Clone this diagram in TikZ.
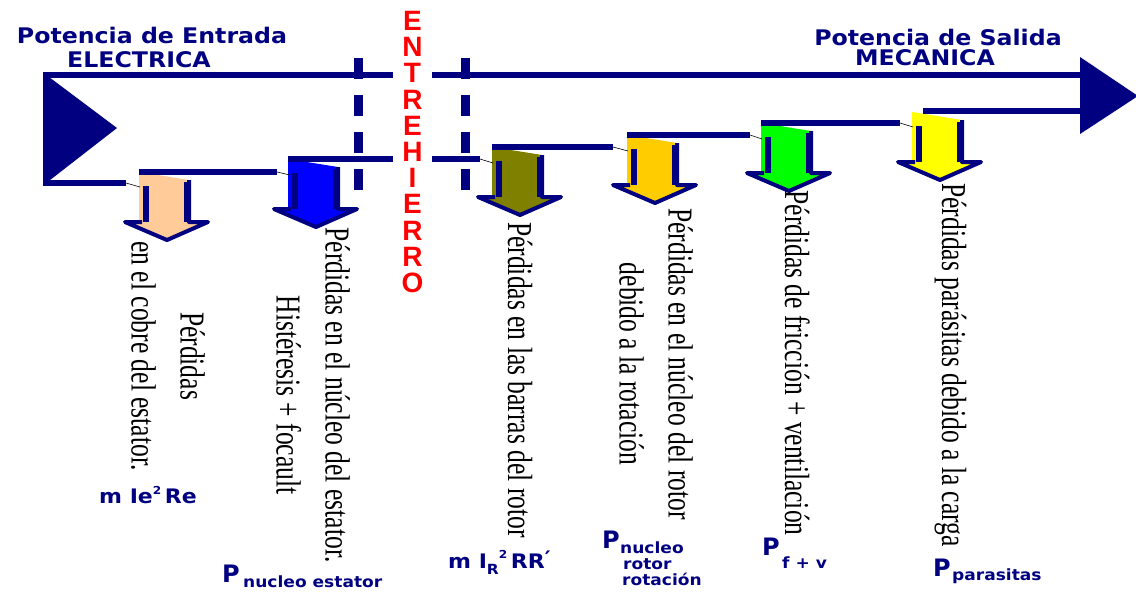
\documentclass[tikz,border=0pt]{standalone}
\usepackage{fontspec}
\setmainfont{Liberation Serif}
\newfontfamily\labfont{DejaVu Sans}
\newfontfamily\redfont{Liberation Sans}
\definecolor{nvy}{RGB}{0,0,128}
\definecolor{beige}{RGB}{255,204,153}
\definecolor{olivec}{RGB}{128,128,0}
\definecolor{orangec}{RGB}{255,204,0}
\definecolor{greenc}{RGB}{0,255,0}
\definecolor{yellowc}{RGB}{255,255,0}
\newcommand\vt[1]{\scalebox{0.73}[1]{\begin{tabular}{@{}c@{}}#1\end{tabular}}}
\newcommand\widen[1]{\scalebox{1.1}[1]{#1}}
\newcommand\lossarrow[4]{%
  \coordinate (#1) at (#2,#3);
  \fill[#4] (#2,#3) -- (#2+50,#3+8) -- (#2+50,#3+50) -- (#2+69,#3+50) -- (#2+28,#3+68) -- (#2-14,#3+50) -- (#2,#3+50) -- cycle;
  \draw[nvy,line width=4pt,line join=round] (#2+50,#3+8) -- (#2+50,#3+50) -- (#2+69,#3+50) -- (#2+28,#3+68) -- (#2-14,#3+50) -- (#2+3,#3+50);
  \fill[nvy] (#2+45,#3+10) rectangle (#2+51,#3+50);
  \fill[nvy] (#2+4,#3+14) rectangle (#2+10,#3+50);
}
\tikzset{
  flow/.style={draw=nvy, line width=5.5pt},
  link/.style={draw=black, line width=0.6pt},
  gapline/.style={draw=nvy, line width=9pt, dash pattern=on 21pt off 16pt},
  losstxt/.style={rotate=-90, inner sep=0pt, font=\fontsize{35}{49}\selectfont},
  title/.style={text=nvy, inner sep=0pt, anchor=base, font=\labfont\bfseries\fontsize{21.5}{22}\selectfont},
  lab/.style={text=nvy, inner sep=0pt, anchor=base west, font=\labfont\bfseries\fontsize{20}{20}\selectfont},
  labP/.style={text=nvy, inner sep=0pt, anchor=base west, font=\labfont\bfseries\fontsize{24}{24}\selectfont},
  labsub/.style={text=nvy, inner sep=0pt, anchor=base west, font=\labfont\bfseries\fontsize{15.5}{15.5}\selectfont},
}
\begin{document}
\begin{tikzpicture}[x=1pt,y=-1pt]
\useasboundingbox[fill=white] (0,0) rectangle (1136,592);
% loss arrows
\lossarrow{a1}{139}{172}{beige}
\lossarrow{a2}{288}{159}{blue}
\lossarrow{a3}{492}{147}{olivec}
\lossarrow{a4}{627}{135}{orangec}
\lossarrow{a5}{761}{123}{greenc}
\lossarrow{a6}{912}{112}{yellowc}
% dashed air-gap lines
\draw[gapline] (358,58) -- (358,195);
\draw[gapline] (465,58) -- (465,195);
% main flow
\coordinate (tl) at (43,75);
\coordinate (bl) at (43,183);
\fill[nvy] (43,72.5) -- (117,128) -- (43,185.5) -- cycle;
\draw[flow] (tl) -- (1082,75);
\draw[flow] (bl) -- (126,183);
\draw[flow] (a1) -- ++(138,0);
\draw[flow] (a2) -- ++(192,0);
\draw[flow] (a3) -- ++(121,0);
\draw[flow] (a4) -- ++(123,0);
\draw[flow] (a5) -- ++(139,0);
\draw[flow] (923,111) -- (1082,111);
\fill[nvy] (1080,57) -- (1138,96) -- (1080,134) -- cycle;
% thin connectors
\draw[link] (126,183) -- (140,187);
\draw[link] (277,172) -- (290,175);
\draw[link] (480,159) -- (493,163);
\draw[link] (613,147) -- (628,151);
\draw[link] (750,135) -- (762,139);
\draw[link] (900,123) -- (913,127);
% ENTREHIERRO
\node[fill=white, minimum width=39pt, inner xsep=0pt, inner ysep=3pt, text=red, align=center,
      font=\redfont\bfseries\fontsize{28}{26.2}\selectfont] (gap) at (412.5,152)
  {E\\N\\T\\R\\E\\H\\I\\E\\R\\R\\O};
% titles
\node[title] (t1) at (152,43) {\widen{Potencia de Entrada}};
\node[title] (t2) at (139,67) {\widen{ELECTRICA}};
\node[title] (t3) at (938,45) {\widen{Potencia de Salida}};
\node[title] (t4) at (925,65) {\widen{MECANICA}};
% vertical loss texts
\node[losstxt] (v1) at (166,356) {\vt{Pérdidas\\en el cobre del estator.}};
\node[losstxt] (v2) at (311,395) {\vt{Pérdidas en el núcleo del estator.\\Histéresis + focault}};
\node[losstxt] (v3) at (518,380) {\vt{Pérdidas en las barras del rotor}};
\node[losstxt] (v4) at (654,364) {\vt{Pérdidas en el núcleo del rotor\\debido a la rotación}};
\node[losstxt] (v5) at (795,363) {\vt{Pérdidas de fricción + ventilación}};
\node[losstxt] (v6) at (952,365) {\vt{Pérdidas parásitas debido a la carga}};
% formula labels
\node[lab] (f1) at (99,503) {\widen{m Ie\raisebox{9pt}{\fontsize{11}{11}\selectfont 2}\,Re}};
\node[labP] (p2) at (222,582) {P};
\node[labsub] (p2s) at (243,587) {\widen{nucleo estator}};
\node[lab] (f3) at (448,568) {\widen{m I\raisebox{-6pt}{\fontsize{14}{14}\selectfont R}\raisebox{10pt}{\fontsize{11}{11}\selectfont 2}\,RR\raisebox{3pt}{′}}};
\node[labP] (p4) at (602,548) {P};
\node[labsub] (p4a) at (620,553) {\widen{nucleo}};
\node[labsub] (p4b) at (623,569) {\widen{rotor}};
\node[labsub] (p4c) at (622,585) {\widen{rotación}};
\node[labP] (p5) at (762,555) {P};
\node[labsub] (p5s) at (782,568) {\widen{f + v}};
\node[labP] (p6) at (933,576) {P};
\node[labsub] (p6s) at (952,580) {\widen{parasitas}};
\end{tikzpicture}
\end{document}
